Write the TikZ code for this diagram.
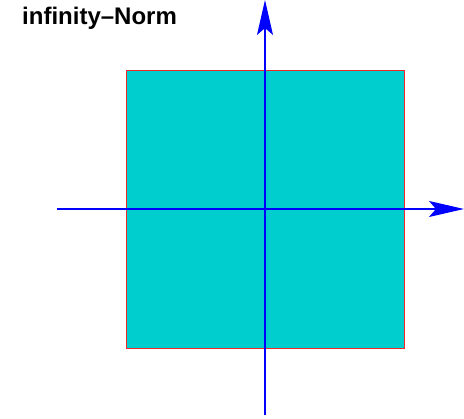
\documentclass[tikz,border=0pt]{standalone}
\usepackage{fontspec}
\setsansfont{Liberation Sans}
\usetikzlibrary{arrows.meta}
\definecolor{normcyan}{RGB}{0,206,206}
\definecolor{normblue}{RGB}{0,0,255}
\definecolor{normred}{RGB}{240,40,40}
\begin{document}
\begin{tikzpicture}[x=1pt,y=-1pt,font=\sffamily\bfseries,
    axis/.style={normblue,line width=1.2pt,-{Stealth[length=35pt,width=16pt,inset=7pt]}}]
    \useasboundingbox (0,0) rectangle (464,419);
    \filldraw[fill=normcyan,draw=normred,line width=0.9pt] (126,70) rectangle (404,348);
    \coordinate (xl) at (57,209); \coordinate (xr) at (464,209);
    \coordinate (yb) at (265,415); \coordinate (yt) at (265,0);
    \draw[axis] (xl)--(xr);
    \draw[axis] (yb)--(yt);
    \node[anchor=base west,inner sep=0pt,font=\sffamily\bfseries\fontsize{24}{26}\selectfont] (title) at (22,25) {infinity\textendash Norm};
  \end{tikzpicture}
\end{document}
